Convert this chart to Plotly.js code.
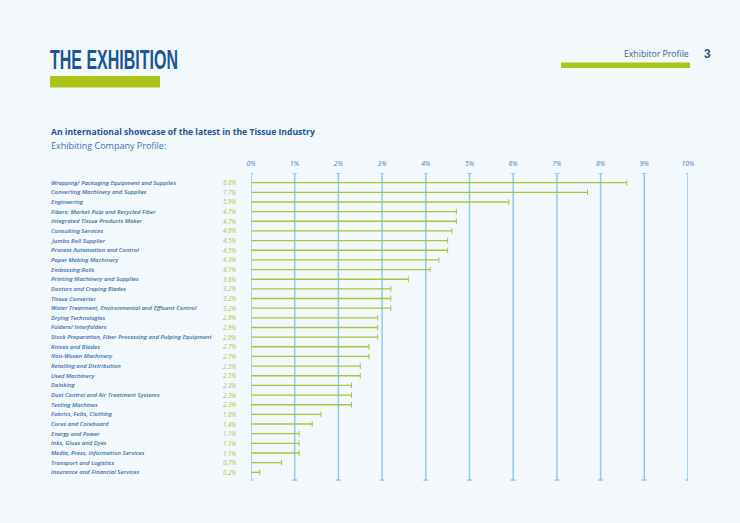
<!DOCTYPE html>
<html><head><meta charset="utf-8">
<script src="https://cdn.plot.ly/plotly-3.0.1.min.js"></script>
<style>body{margin:0;background:#f3f8fd}#chart{width:740px;height:523px}</style>
</head><body><div id="chart"></div>
<script>
const categories = [
"Wrapping/ Packaging Equipment and Supplies","Converting Machinery and Supplies","Engineering",
"Fibers: Market Pulp and Recycled Fiber","Integrated Tissue Products Maker","Consulting Services",
"Jumbo Roll Supplier","Process Automation and Control","Paper Making Machinery","Embossing Rolls",
"Printing Machinery and Supplies","Doctors and Creping Blades","Tissue Converter",
"Water Treatment, Environmental and Effluent Control","Drying Technologies","Folders/ Interfolders",
"Stock Preparation, Fiber Processing and Pulping Equipment","Knives and Blades","Non-Woven Machinery",
"Retailing and Distribution","Used Machinery","Deinking","Dust Control and Air Treatment Systems",
"Testing Machines","Fabrics, Felts, Clothing","Cores and Coreboard","Energy and Power",
"Inks, Glues and Dyes","Media, Press, Information Services","Transport and Logistics",
"Insurance and Financial Services"];
const values = [8.6,7.7,5.9,4.7,4.7,4.6,4.5,4.5,4.3,4.1,3.6,3.2,3.2,3.2,2.9,2.9,2.9,2.7,2.7,2.5,2.5,2.3,2.3,2.3,1.6,1.4,1.1,1.1,1.1,0.7,0.2];
const tickVals = [0,1,2,3,4,5,6,7,8,9,10];
const tickText = ["0%","1%","2%","3%","4%","5%","6%","7%","8%","9%","10%"];

const GREEN = "#a9c43a", BLUE = "#8ccbea", LABEL = "#3c6ea8", DARK = "#1b5594";
const n = categories.length;

const traces = [
  {type:"bar", orientation:"h", y:categories, x:values, width:0.14,
   marker:{color:GREEN}, hoverinfo:"none", cliponaxis:false},
  {type:"scatter", mode:"markers", y:categories, x:values,
   marker:{symbol:"line-ns", size:4, line:{color:GREEN, width:1}}, hoverinfo:"none", cliponaxis:false}
];

const shapes = [];
tickVals.forEach(v => {
  shapes.push({type:"line", xref:"x", yref:"y", x0:v, x1:v, y0:-1, y1:n-0.2, line:{color:BLUE, width:1.5}, layer:"below"});
  shapes.push({type:"line", xref:"x", yref:"y", xsizemode:"pixel", xanchor:v, x0:-2.5, x1:2.5, y0:-1, y1:-1, line:{color:BLUE, width:1.5}});
  shapes.push({type:"line", xref:"x", yref:"y", xsizemode:"pixel", xanchor:v, x0:-2.5, x1:2.5, y0:n-0.2, y1:n-0.2, line:{color:BLUE, width:1.5}});
});
// header green bars
shapes.push({type:"rect", xref:"paper", yref:"paper", x0:50/740, x1:160/740, y0:1-87.5/523, y1:1-76/523, fillcolor:"#abc41a", line:{width:0}});
shapes.push({type:"rect", xref:"paper", yref:"paper", x0:561/740, x1:690/740, y0:1-68/523, y1:1-62.5/523, fillcolor:"#abc41a", line:{width:0}});

const FONT = "Open Sans, Noto Sans, sans-serif";
const annotations = [];
categories.forEach((c,i) => {
  annotations.push({xref:"paper", yref:"y", x:49/740, y:c, text:c, xanchor:"left", yanchor:"middle", showarrow:false,
    font:{family:FONT, size:5.95, color:LABEL, style:"italic", weight:600}});
  annotations.push({xref:"paper", yref:"y", x:238/740, y:c, text:values[i].toFixed(1)+"%", xanchor:"right", yanchor:"middle", showarrow:false,
    font:{family:FONT, size:6.2, color:GREEN, style:"italic"}});
});
annotations.push({xref:"paper", yref:"paper", x:48/740, y:1-60/523, text:"THE EXHIBITION", xanchor:"left", yanchor:"middle", showarrow:false,
  font:{family:"Liberation Sans Narrow, Liberation Sans, sans-serif", size:27, color:DARK, weight:700}, name:"maintitle"});
annotations.push({xref:"paper", yref:"paper", x:691/740, y:1-54/523, text:"Exhibitor Profile", xanchor:"right", yanchor:"middle", showarrow:false,
  font:{family:FONT, size:8.7, color:"#3a5f8f", weight:500}});
annotations.push({xref:"paper", yref:"paper", x:713/740, y:1-54/523, text:"3", xanchor:"right", yanchor:"middle", showarrow:false,
  font:{family:"Liberation Sans Narrow, Liberation Sans, sans-serif", size:12, color:"#2f5587", weight:700}});
annotations.push({xref:"paper", yref:"paper", x:49/740, y:1-132/523, text:"An international showcase of the latest in the Tissue Industry", xanchor:"left", yanchor:"middle", showarrow:false,
  font:{family:FONT, size:8.6, color:DARK, weight:700}});
annotations.push({xref:"paper", yref:"paper", x:49/740, y:1-145/523, text:"Exhibiting Company Profile:", xanchor:"left", yanchor:"middle", showarrow:false,
  font:{family:FONT, size:9, color:"#3b72ad"}});

const layout = {
  width:740, height:523, margin:{l:0,r:0,t:0,b:0},
  paper_bgcolor:"#f3f8fd", plot_bgcolor:"rgba(0,0,0,0)",
  showlegend:false, barmode:"overlay",
  xaxis:{domain:[251/740, 688/740], range:[0,10], side:"top", tickvals:tickVals, ticktext:tickText,
    showgrid:false, zeroline:false, showline:false, ticks:"", ticklabelstandoff:5,
    tickfont:{family:FONT, size:6.8, color:"#4a78ad", style:"italic"}, fixedrange:true},
  yaxis:{type:"category", domain:[1-481/523, 1-173/523], range:[n-0.5+0.4, -1], showticklabels:false,
    showgrid:false, zeroline:false, showline:false, ticks:"", fixedrange:true},
  shapes:shapes, annotations:annotations
};
Plotly.newPlot("chart", traces, layout, {displayModeBar:false, staticPlot:true}).then(gd => {
  // condense the headline to match the narrow display face of the original
  gd.querySelectorAll(".annotation-text").forEach(t => {
    if (t.textContent === "THE EXHIBITION") {
      const bb = t.getBBox();
      const s = 128 / bb.width;
      t.setAttribute("transform", "translate(" + (bb.x * (1 - s)) + ",0) scale(" + s + ",1)");
    }
  });
});
</script></body></html>
